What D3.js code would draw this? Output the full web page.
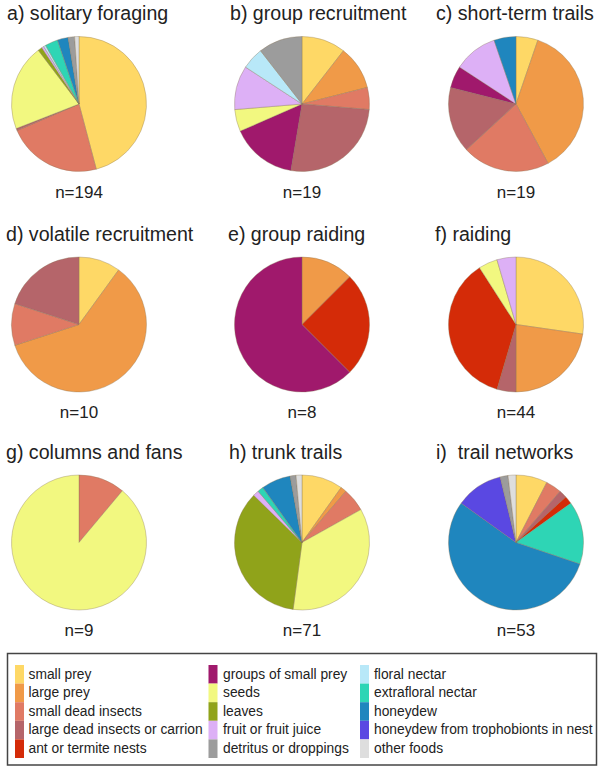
<!DOCTYPE html>
<html>
<head>
<meta charset="utf-8">
<script src="https://cdn.jsdelivr.net/npm/d3@7"></script>
<style>
  html, body { margin: 0; padding: 0; background: #fff; }
  svg text { font-family: "Liberation Sans", Arial, sans-serif; fill: #222; white-space: pre; }
</style>
</head>
<body>
<svg id="chart" width="602" height="772"></svg>
<script>
// Food categories (slice order, clockwise from 12 o'clock)
const categories = [
  "small prey", "large prey", "small dead insects", "large dead insects or carrion",
  "ant or termite nests", "groups of small prey", "seeds", "leaves",
  "fruit or fruit juice", "floral nectar", "extrafloral nectar", "honeydew",
  "honeydew from trophobionts in nest", "detritus or droppings", "other foods"
];
const colors = [
  "#FED866", "#F09A48", "#E07A64", "#B5656A",
  "#D42B08", "#A0196C", "#F2F880", "#90A31A",
  "#DDB0F6", "#B8E8F8", "#2ED5B5", "#1F86BE",
  "#5A48E2", "#9C9C9C", "#DEDEDE"
];
// Legend layout: three columns of categories
const legendColumns = [
  ["small prey", "large prey", "small dead insects", "large dead insects or carrion", "ant or termite nests"],
  ["groups of small prey", "seeds", "leaves", "fruit or fruit juice", "detritus or droppings"],
  ["floral nectar", "extrafloral nectar", "honeydew", "honeydew from trophobionts in nest", "other foods"]
];

// Panel titles and sample sizes
const panelTitles = [
  "a) solitary foraging", "b) group recruitment", "c) short-term trails",
  "d) volatile recruitment", "e) group raiding", "f) raiding",
  "g) columns and fans", "h) trunk trails", "i)  trail networks"
];
const sampleSizes = ["n=194", "n=19", "n=19", "n=10", "n=8", "n=44", "n=9", "n=71", "n=53"];

// Counts per category (same order as categories)
const solitaryForaging     = [89, 0, 44, 1, 0, 0, 40, 2, 1, 1, 6, 5, 0, 3, 2];
const groupRecruitment     = [2, 2, 1, 5, 0, 3, 1, 0, 2, 1, 0, 0, 0, 2, 0];
const shortTermTrails      = [1, 7, 4, 3, 0, 1, 0, 0, 2, 0, 0, 1, 0, 0, 0];
const volatileRecruitment  = [1, 6, 1, 2, 0, 0, 0, 0, 0, 0, 0, 0, 0, 0, 0];
const groupRaiding         = [0, 1, 0, 0, 2, 5, 0, 0, 0, 0, 0, 0, 0, 0, 0];
const raiding              = [12, 10, 0, 2, 16, 0, 2, 0, 2, 0, 0, 0, 0, 0, 0];
const columnsAndFans       = [0, 0, 1, 0, 0, 0, 8, 0, 0, 0, 0, 0, 0, 0, 0];
const trunkTrails          = [7, 1, 4, 0, 0, 0, 25, 25, 1, 0, 1, 5, 0, 1, 1];
const trailNetworks        = [4, 0, 2, 1, 1, 0, 0, 0, 0, 0, 8, 29, 6, 1, 1];

const panelValues = [
  solitaryForaging, groupRecruitment, shortTermTrails,
  volatileRecruitment, groupRaiding, raiding,
  columnsAndFans, trunkTrails, trailNetworks
];

// ---- layout ----
const svg = d3.select("#chart");
const colX = [79, 302, 516];
const rowY = [104, 324.5, 542.5];
const titleX = [[7, 230, 436], [6, 228, 435], [6, 229, 436]];
const titleOffset = -84;   // baseline relative to pie centre
const nOffset = 93.5;
const radius = 67.5;

const color = d3.scaleOrdinal().domain(categories).range(colors);
const pie = d3.pie().sort(null).value(d => d.value);
const arc = d3.arc().innerRadius(0).outerRadius(radius);

panelValues.forEach((vals, i) => {
  const r = Math.floor(i / 3), c = i % 3;
  const g = svg.append("g").attr("transform", `translate(${colX[c]},${rowY[r]})`);
  const data = categories.map((k, j) => ({ key: k, value: vals[j] })).filter(d => d.value > 0);
  g.selectAll("path").data(pie(data)).join("path")
    .attr("d", arc)
    .attr("fill", d => color(d.data.key))
    .attr("stroke", "#8a7658")
    .attr("stroke-opacity", 0.6)
    .attr("stroke-width", 0.6);
  svg.append("text")
    .attr("x", titleX[r][c]).attr("y", rowY[r] + titleOffset)
    .attr("font-size", 19.6)
    .text(panelTitles[i]);
  svg.append("text")
    .attr("x", colX[c]).attr("y", rowY[r] + nOffset)
    .attr("text-anchor", "middle")
    .attr("font-size", 17)
    .text(sampleSizes[i]);
});

// ---- legend ----
const legend = svg.append("g");
legend.append("rect")
  .attr("x", 7.5).attr("y", 653.5).attr("width", 589).attr("height", 111.5)
  .attr("fill", "none").attr("stroke", "#444").attr("stroke-width", 1.5);
const swatchX = [15, 208.5, 360];
const textX = [28.5, 223, 374];
const rowStep = 18.6;
const firstBaseline = 678.5;
legendColumns.forEach((col, ci) => {
  col.forEach((name, ri) => {
    const y = firstBaseline + ri * rowStep;
    legend.append("rect")
      .attr("x", swatchX[ci]).attr("y", y - 13.5)
      .attr("width", 9).attr("height", rowStep)
      .attr("fill", color(name));
    legend.append("text")
      .attr("x", textX[ci]).attr("y", y)
      .attr("font-size", 13.8)
      .text(name);
  });
});
</script>
</body>
</html>
